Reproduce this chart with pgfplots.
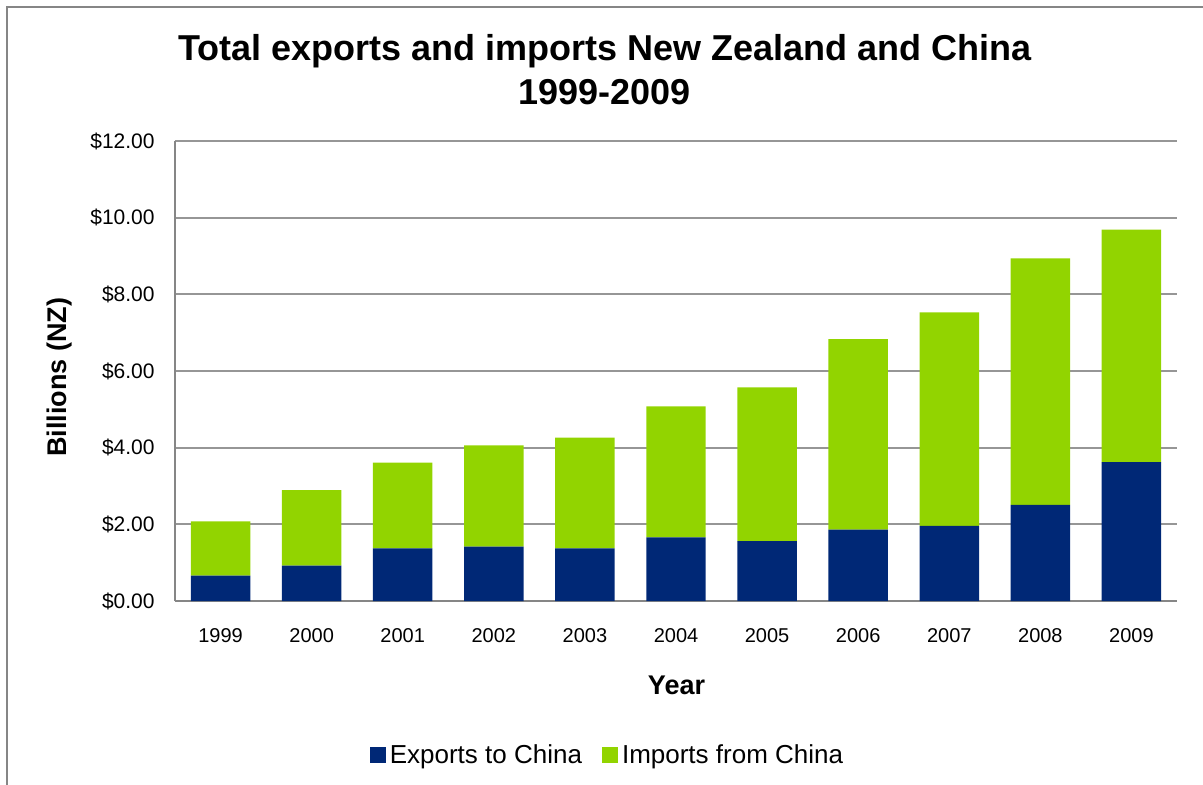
\documentclass[border=0pt]{standalone}
\usepackage{pgfplots}
\pgfplotsset{compat=1.18}
\usepackage{fontspec}
\setmainfont{Liberation Sans}
\definecolor{expblue}{RGB}{0,40,118}
\definecolor{impgreen}{RGB}{146,212,0}
\definecolor{gridgray}{RGB}{150,150,150}
\definecolor{axisgray}{RGB}{134,134,134}
\pgfplotstableread{
x exports imports
0 0.66 1.42
1 0.92 1.97
2 1.37 2.24
3 1.42 2.64
4 1.37 2.89
5 1.66 3.42
6 1.56 4.01
7 1.86 4.97
8 1.96 5.57
9 2.51 6.43
10 3.62 6.07
}\datatable
\begin{document}
\begin{tikzpicture}
\useasboundingbox (0,0) rectangle (601.5pt,-392.5pt);
\draw[axisgray, line width=1pt] (3.5pt,-392.5pt) -- (3.5pt,-3.5pt) -- (601.5pt,-3.5pt);
\begin{axis}[
  at={(87.5pt,-300.5pt)}, anchor=south west,
  scale only axis, width=501pt, height=230pt,
  ybar stacked, bar width=0.653,
  xmin=-0.5, xmax=10.5, ymin=0, ymax=12,
  xtick=data,
  xticklabels={1999,2000,2001,2002,2003,2004,2005,2006,2007,2008,2009},
  ytick={0,2,4,6,8,10,12},
  yticklabels={\$0.00,\$2.00,\$4.00,\$6.00,\$8.00,\$10.00,\$12.00},
  major tick length=0pt,
  axis x line*=bottom, axis y line*=left,
  axis line style={axisgray, line width=1pt, -},
  ymajorgrids, grid style={gridgray, line width=1pt},
  xticklabel style={font=\fontsize{10}{12}\selectfont, anchor=center, yshift=-17.5pt},
  yticklabel style={font=\fontsize{10.5}{12}\selectfont, anchor=east, inner sep=0pt, xshift=-10pt},
  xlabel={Year},
  xlabel style={font=\bfseries\fontsize{13.5}{16}\selectfont, at={(axis description cs:0.5005,-0.1826)}, anchor=center},
  ylabel={Billions (NZ)},
  ylabel style={font=\bfseries\fontsize{13.5}{16}\selectfont, at={(axis description cs:-0.1148,0.486)}, anchor=center},
  title={Total exports and imports New Zealand and China\\1999-2009},
  title style={font=\bfseries\fontsize{18}{22}\selectfont, align=center, at={(axis description cs:0.429,1.130)}, anchor=center},
  legend style={at={(axis description cs:0.4326,-0.335)}, anchor=center, draw=none,
    font=\fontsize{13}{15}\selectfont, legend columns=2,
    /tikz/every even column/.append style={column sep=8pt}},
  legend image code/.code={\fill[#1] (0pt,-4pt) rectangle (8pt,4pt);},
  clip=false,
]
\addplot[fill=expblue, draw=none] table[x=x, y=exports] {\datatable};
\addplot[fill=impgreen, draw=none] table[x=x, y=imports] {\datatable};
\legend{Exports to China, Imports from China}
\end{axis}
\end{tikzpicture}
\end{document}
